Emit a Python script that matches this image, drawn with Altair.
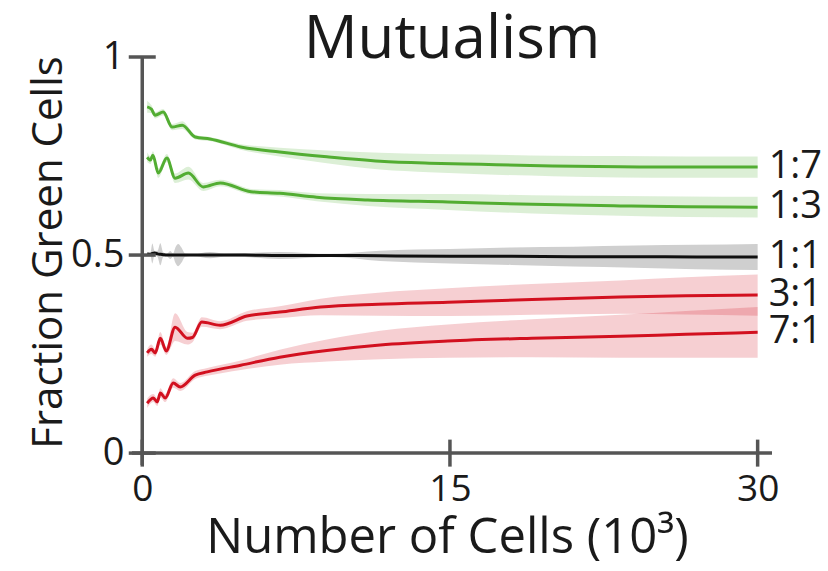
import altair as alt
import pandas as pd

# ---- data ----
series_names = ["1:7", "1:3", "1:1", "3:1", "7:1"]

s17_x = [0.24, 0.45, 0.63, 1.02, 1.46, 1.95, 2.58, 3.3, 4.8, 6.7, 9.0, 11.6, 14.0, 16.5, 20.0, 23.3, 26.5, 30.0]
s17_y = [0.874, 0.868, 0.853, 0.861, 0.823, 0.828, 0.798, 0.793, 0.773, 0.760, 0.748, 0.737, 0.732, 0.729, 0.725, 0.723, 0.722, 0.722]
s17_e = [0.015, 0.010, 0.008, 0.008, 0.008, 0.010, 0.006, 0.005, 0.007, 0.011, 0.016, 0.021, 0.023, 0.025, 0.026, 0.027, 0.027, 0.027]

s13_x = [0.24, 0.40, 0.52, 0.78, 1.2, 1.6, 2.25, 2.97, 3.8, 5.3, 6.7, 8.5, 11.0, 14.9, 19.0, 23.3, 26.5, 30.0]
s13_y = [0.747, 0.740, 0.752, 0.707, 0.745, 0.694, 0.707, 0.672, 0.682, 0.660, 0.656, 0.646, 0.639, 0.634, 0.628, 0.624, 0.622, 0.621]
s13_e = [0.012, 0.010, 0.010, 0.012, 0.010, 0.012, 0.016, 0.010, 0.008, 0.007, 0.008, 0.010, 0.015, 0.020, 0.023, 0.025, 0.026, 0.026]

s11_x = [0.24, 0.40, 0.49, 0.60, 0.75, 0.88, 1.02, 1.20, 1.36, 1.50, 1.62, 1.75, 1.90, 2.10, 2.50, 3.30, 4.0, 5.0, 6.7, 9.2, 11.6, 15.0, 18.0, 21.0, 24.0, 27.0, 30.0]
s11_y = [0.503, 0.502, 0.504, 0.505, 0.503, 0.502, 0.501, 0.500, 0.500, 0.500, 0.500, 0.500, 0.500, 0.500, 0.500, 0.500, 0.500, 0.500, 0.499, 0.499, 0.498, 0.497, 0.497, 0.496, 0.496, 0.495, 0.495]
s11_e = [0.004, 0.004, 0.025, 0.005, 0.008, 0.028, 0.006, 0.003, 0.010, 0.004, 0.020, 0.028, 0.020, 0.004, 0.003, 0.008, 0.004, 0.005, 0.009, 0.004, 0.013, 0.018, 0.022, 0.025, 0.028, 0.031, 0.033]

s31_x = [0.24, 0.45, 0.63, 0.88, 1.17, 1.6, 2.2, 2.45, 2.9, 3.8, 5.1, 6.7, 8.7, 11.5, 14.9, 19.0, 23.3, 26.5, 30.0]
s31_y = [0.253, 0.262, 0.253, 0.290, 0.258, 0.318, 0.290, 0.292, 0.331, 0.323, 0.346, 0.356, 0.369, 0.376, 0.381, 0.388, 0.394, 0.397, 0.399]
s31_e = [0.010, 0.012, 0.010, 0.016, 0.010, 0.035, 0.016, 0.012, 0.012, 0.010, 0.012, 0.015, 0.021, 0.029, 0.035, 0.039, 0.042, 0.047, 0.052]

s71_x = [0.24, 0.54, 0.73, 0.88, 1.12, 1.51, 1.85, 2.58, 3.17, 4.8, 6.7, 9.0, 11.6, 14.9, 19.0, 23.3, 26.5, 30.0]
s71_y = [0.126, 0.139, 0.129, 0.152, 0.139, 0.177, 0.167, 0.197, 0.205, 0.222, 0.242, 0.259, 0.273, 0.283, 0.290, 0.295, 0.300, 0.305]
s71_e = [0.012, 0.010, 0.010, 0.012, 0.010, 0.012, 0.010, 0.010, 0.010, 0.012, 0.019, 0.028, 0.036, 0.042, 0.048, 0.054, 0.059, 0.064]

x_ticks = [0, 15, 30]
y_ticks = [0, 0.5, 1]

# ---- build table ----
rows = []
for name, xs, ys, es in [
    ("1:7", s17_x, s17_y, s17_e),
    ("1:3", s13_x, s13_y, s13_e),
    ("1:1", s11_x, s11_y, s11_e),
    ("3:1", s31_x, s31_y, s31_e),
    ("7:1", s71_x, s71_y, s71_e),
]:
    for xv, yv, ev in zip(xs, ys, es):
        rows.append({"series": name, "x": xv, "y": yv, "lo": yv - ev, "hi": yv + ev})
df = pd.DataFrame(rows)
df_last = df.groupby("series", sort=False).tail(1)

GREEN = "#52ad32"
RED = "#d2101f"
BLACK = "#111111"
AXIS = "#555555"
TXT = "#1a1a1a"
FONT = "Open Sans"

xscale = alt.Scale(domain=[-0.5, 30.7], nice=False, zero=False)
yscale = alt.Scale(domain=[-0.03, 1.0], nice=False, zero=False)
cscale = alt.Scale(domain=series_names, range=[GREEN, GREEN, BLACK, RED, RED])

xaxis = alt.Axis(values=x_ticks, format="d", domain=False, ticks=False, grid=False,
                 labelFontSize=37, labelFont=FONT, labelColor=TXT, labelPadding=6,
                 title="Number of Cells (10³)", titleFontSize=49, titleFont=FONT,
                 titleFontWeight="normal", titleColor=TXT, titleX=315, titleY=87,
                 titleBaseline="alphabetic")
yaxis = alt.Axis(values=y_ticks, format="~g", domain=False, ticks=False, grid=False,
                 labelFontSize=38, labelFont=FONT, labelColor=TXT, labelPadding=8,
                 title="Fraction Green Cells", titleFontSize=42, titleFont=FONT,
                 titleFontWeight="normal", titleColor=TXT, titleX=-71, titleY=195,
                 titleBaseline="alphabetic")

X = lambda f: alt.X(f, type="quantitative", scale=xscale, axis=xaxis)
Y = lambda f: alt.Y(f, type="quantitative", scale=yscale, axis=yaxis)

base = alt.Chart(df)

band = base.mark_area(opacity=0.2, interpolate="monotone").encode(
    x=X("x"), y=Y("lo"), y2="hi",
    color=alt.Color("series:N", scale=cscale, legend=None),
    detail="series:N",
)
line = base.mark_line(strokeWidth=3, interpolate="monotone").encode(
    x=X("x"), y=Y("y"),
    color=alt.Color("series:N", scale=cscale, legend=None),
    detail="series:N",
)

yline = alt.Chart(pd.DataFrame({"x": [0], "y": [-0.03], "y2": [1.0]})).mark_rule(
    color=AXIS, strokeWidth=3.5).encode(x=X("x"), y=Y("y"), y2="y2")
xline = alt.Chart(pd.DataFrame({"y": [0], "x": [-0.5], "x2": [30.7]})).mark_rule(
    color=AXIS, strokeWidth=3.5).encode(x=X("x"), x2="x2", y=Y("y"))

ytk = alt.Chart(pd.DataFrame({"x": [0] * len(y_ticks), "y": y_ticks})).mark_tick(
    orient="horizontal", size=27, thickness=3.5, color=AXIS, opacity=1).encode(x=X("x"), y=Y("y"))
xtk = alt.Chart(pd.DataFrame({"x": x_ticks, "y": [0] * len(x_ticks)})).mark_tick(
    orient="vertical", size=27, thickness=3.5, color=AXIS, opacity=1).encode(x=X("x"), y=Y("y"))

labels = alt.Chart(df_last).mark_text(
    align="left", baseline="middle", dx=11, fontSize=38, font=FONT, color=TXT
).encode(x=X("x"), y=Y("y"), text="series:N")

chart = alt.layer(band, line, yline, xline, ytk, xtk, labels).properties(
    width=640, height=408,
    title=alt.TitleParams("Mutualism", fontSize=60, font=FONT, fontWeight="normal",
                          color=TXT, anchor="middle", frame="group",
                          baseline="alphabetic", offset=0, dy=80),
    autosize=alt.AutoSizeParams(type="none"),
    padding={"left": 132, "top": 57, "right": 56, "bottom": 106},
).configure(background="white").configure_view(stroke=None)

chart.save("out.html", embed_options={"renderer": "svg", "actions": False})
